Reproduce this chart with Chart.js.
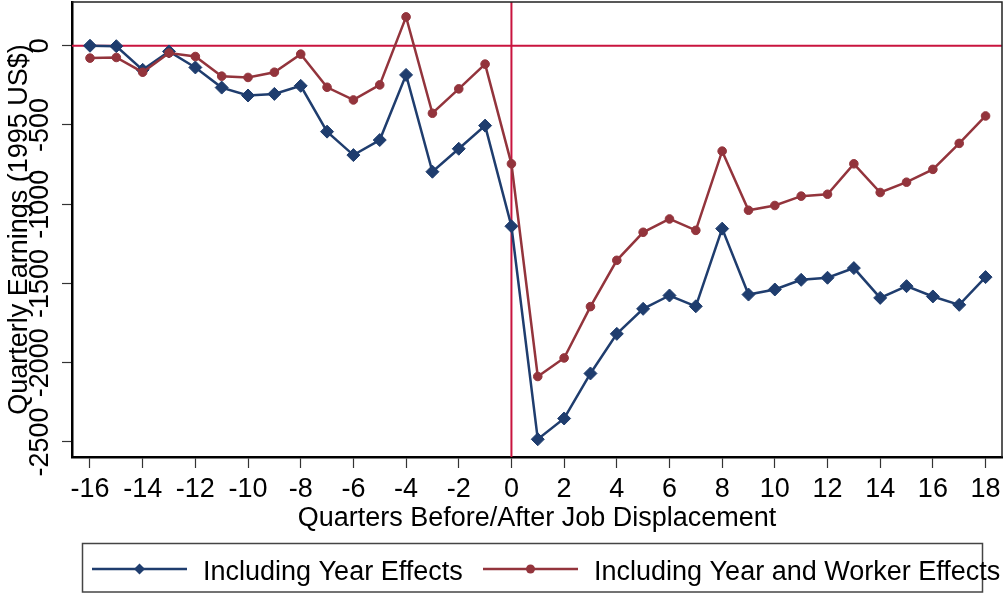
<!DOCTYPE html>
<html>
<head>
<meta charset="utf-8">
<script src="https://cdn.jsdelivr.net/npm/chart.js@4/dist/chart.umd.min.js"></script>
<style>
html,body{margin:0;padding:0;background:#fff;}
#wrap{width:1003px;height:593px;position:relative;}
</style>
</head>
<body>
<div id="wrap"><canvas id="c" width="1003" height="593"></canvas></div>
<script>
// ---- data ----
const quarters = [-16,-15,-14,-13,-12,-11,-10,-9,-8,-7,-6,-5,-4,-3,-2,-1,0,1,2,3,4,5,6,7,8,9,10,11,12,13,14,15,16,17,18];
const yearEffects = [0,-3,-152,-36,-137,-264,-314,-304,-253,-542,-690,-595,-184,-795,-650,-504,-1139,-2483,-2352,-2068,-1818,-1660,-1576,-1644,-1154,-1570,-1538,-1477,-1464,-1403,-1591,-1517,-1582,-1635,-1460];
const yearWorkerEffects = [-78,-74,-167,-46,-68,-192,-200,-167,-53,-262,-342,-247,182,-426,-272,-116,-745,-2087,-1970,-1646,-1354,-1177,-1093,-1165,-665,-1038,-1008,-949,-937,-745,-926,-861,-780,-616,-443];
const xTickValues = [-16,-14,-12,-10,-8,-6,-4,-2,0,2,4,6,8,10,12,14,16,18];
const yTickValues = [-2500,-2000,-1500,-1000,-500,0];
const seriesLabels = ['Including Year Effects','Including Year and Worker Effects'];
const xTitle = 'Quarters Before/After Job Displacement';
const yTitle = 'Quarterly Earnings (1995 US$)';

const FONT = "'Liberation Sans', Arial, Helvetica, sans-serif";
const FS = 27;
const BLUE = '#1f3d6e';
const RED = '#93343c';
const REF = '#c9143f';
const AREA = {left: 72, top: 2, right: 1002, bottom: 457};

const refLines = {
  id: 'refLines',
  beforeDatasetsDraw(chart) {
    const {ctx, chartArea: a, scales: {x, y}} = chart;
    ctx.save();
    ctx.strokeStyle = REF;
    ctx.lineWidth = 2;
    const y0 = y.getPixelForValue(0);
    const x0 = x.getPixelForValue(0);
    ctx.beginPath();
    ctx.moveTo(a.left, y0); ctx.lineTo(a.right, y0);
    ctx.moveTo(x0, a.top); ctx.lineTo(x0, a.bottom);
    ctx.stroke();
    ctx.restore();
  }
};

const decor = {
  id: 'decor',
  afterDraw(chart) {
    const {ctx, chartArea: a, scales: {y}} = chart;
    ctx.save();
    ctx.strokeStyle = '#222';
    ctx.lineWidth = 1.5;
    ctx.beginPath();
    ctx.moveTo(a.left, a.top); ctx.lineTo(a.right, a.top); ctx.lineTo(a.right, a.bottom);
    ctx.stroke();
    ctx.fillStyle = '#000';
    ctx.font = FS + 'px ' + FONT;
    ctx.textAlign = 'center';
    ctx.textBaseline = 'alphabetic';
    y.ticks.forEach(t => {
      const py = y.getPixelForValue(t.value);
      ctx.save();
      ctx.translate(48, py);
      ctx.rotate(-Math.PI / 2);
      ctx.fillText(String(t.value), 0, 0);
      ctx.restore();
    });
    ctx.strokeStyle = '#444';
    ctx.lineWidth = 1.5;
    ctx.strokeRect(82.5, 543.5, 900, 48.5);
    const items = [
      {ds: chart.data.datasets[0], x: 92},
      {ds: chart.data.datasets[1], x: 483}
    ];
    const ly = 569;
    items.forEach(it => {
      const ds = it.ds;
      ctx.strokeStyle = ds.borderColor;
      ctx.lineWidth = 2.5;
      ctx.beginPath();
      ctx.moveTo(it.x, ly); ctx.lineTo(it.x + 95, ly);
      ctx.stroke();
      const mx = it.x + 47.5;
      ctx.fillStyle = ds.borderColor;
      ctx.beginPath();
      if (ds.pointStyle === 'rectRot') {
        const r = 5.5;
        ctx.moveTo(mx - r, ly); ctx.lineTo(mx, ly - r); ctx.lineTo(mx + r, ly); ctx.lineTo(mx, ly + r);
        ctx.closePath();
      } else {
        ctx.arc(mx, ly, 4.5, 0, Math.PI * 2);
      }
      ctx.fill();
      ctx.fillStyle = '#000';
      ctx.font = FS + 'px ' + FONT;
      ctx.textAlign = 'left';
      ctx.textBaseline = 'alphabetic';
      ctx.fillText(ds.label, it.x + 111, 580);
    });
    ctx.restore();
  }
};

const toPts = vals => quarters.map((q, i) => ({x: q, y: vals[i]}));

const chart = new Chart(document.getElementById('c'), {
  type: 'line',
  data: {
    datasets: [
      {
        label: seriesLabels[0],
        data: toPts(yearEffects),
        borderColor: BLUE,
        backgroundColor: BLUE,
        borderWidth: 2.5,
        pointStyle: 'rectRot',
        pointRadius: 6.5,
        pointBorderWidth: 1,
        pointBackgroundColor: BLUE,
        pointBorderColor: BLUE,
        tension: 0,
        order: 1
      },
      {
        label: seriesLabels[1],
        data: toPts(yearWorkerEffects),
        borderColor: RED,
        backgroundColor: RED,
        borderWidth: 2.5,
        pointStyle: 'circle',
        pointRadius: 4.3,
        pointBorderWidth: 1,
        pointBackgroundColor: RED,
        pointBorderColor: RED,
        tension: 0,
        order: 0
      }
    ]
  },
  options: {
    responsive: false,
    animation: false,
    events: [],
    layout: {autoPadding: false, padding: {left: 0, right: 1, top: 2, bottom: 58}},
    plugins: {legend: {display: false}, tooltip: {enabled: false}},
    scales: {
      x: {
        type: 'linear',
        min: -16.683,
        max: 18.624,
        afterBuildTicks: s => { s.ticks = xTickValues.map(v => ({value: v})); },
        afterFit: s => { s.height = 78; s.paddingLeft = 0; s.paddingRight = 0; s.paddingTop = 0; s.paddingBottom = 0; },
        grid: {display: true, drawOnChartArea: false, drawTicks: true, tickLength: 11, tickColor: '#333', tickWidth: 1.2},
        border: {display: true, color: '#000', width: 2.5},
        ticks: {color: '#000', font: {family: FONT, size: FS}, padding: 5, maxRotation: 0, autoSkip: false},
        title: {display: true, text: xTitle, color: '#000', font: {family: FONT, size: FS}, padding: {top: 0, bottom: 0}}
      },
      y: {
        type: 'linear',
        min: -2595,
        max: 276,
        afterBuildTicks: s => { s.ticks = yTickValues.map(v => ({value: v})); },
        afterFit: s => { s.width = 72; s.paddingLeft = 0; s.paddingRight = 0; s.paddingTop = 0; s.paddingBottom = 0; },
        grid: {display: true, drawOnChartArea: false, drawTicks: true, tickLength: 10, tickColor: '#333', tickWidth: 1.2},
        border: {display: true, color: '#000', width: 2.5},
        ticks: {color: 'rgba(0,0,0,0)', font: {family: FONT, size: 2}, autoSkip: false},
        title: {display: true, text: yTitle, color: '#000', font: {family: FONT, size: FS}, padding: {top: 3, bottom: 0}}
      }
    }
  },
  plugins: [refLines, decor]
});

// safety: nudge layout padding so the plot area lands where the reference has it
for (let i = 0; i < 2; i++) {
  const a = chart.chartArea;
  const p = chart.options.layout.padding;
  const np = {
    top: p.top + (AREA.top - a.top),
    left: p.left + (AREA.left - a.left),
    right: p.right + (a.right - AREA.right),
    bottom: p.bottom + (a.bottom - AREA.bottom)
  };
  if (Math.abs(np.top - p.top) + Math.abs(np.left - p.left) + Math.abs(np.right - p.right) + Math.abs(np.bottom - p.bottom) < 0.5) break;
  chart.options.layout.padding = np;
  chart.update();
}
</script>
</body>
</html>
